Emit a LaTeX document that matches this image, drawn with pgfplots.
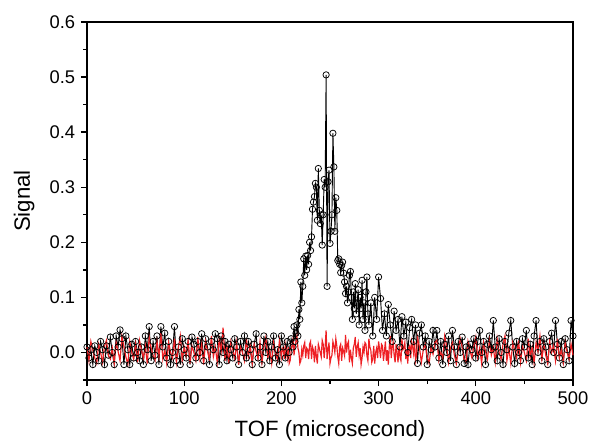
\documentclass[border=0pt]{standalone}
\usepackage{fontspec}
\setmainfont{Liberation Sans}
\usepackage{pgfplots}
\usepackage{pgfplotstable}
\pgfplotsset{compat=1.18}

\definecolor{sigred}{RGB}{238,32,36}

% black: signal with molecules (TOF, signal)
\pgfplotstableread{
x y
0 0.01
2 -0.01
4 0.005
6 -0.022
8 0.012
10 0.0
12 -0.015
14 0.02
16 0.005
18 -0.022
20 0.012
22 -0.005
24 0.028
26 0.0
28 -0.022
30 0.03
32 0.01
34 0.041
36 0.025
38 -0.022
40 0.03
42 0.005
44 -0.022
46 0.015
48 -0.01
50 0.02
52 0.0
54 -0.015
56 0.01
58 -0.022
60 0.03
62 0.005
64 0.047
66 -0.015
68 0.02
70 -0.005
72 0.03
74 -0.022
76 0.047
78 0.01
80 0.035
82 -0.01
84 0.02
86 -0.022
88 0.0
90 0.047
92 -0.015
94 0.01
96 -0.022
98 0.025
100 0.005
102 -0.01
104 0.02
106 -0.022
108 0.028
110 0.015
112 -0.01
114 0.02
116 0.0
118 0.034
120 -0.015
122 0.025
124 0.01
126 -0.022
128 0.02
130 0.005
132 0.034
134 0.025
136 -0.022
138 0.03
140 0.0
142 0.02
144 -0.015
146 0.015
148 0.005
150 -0.01
152 0.025
154 0.01
156 -0.022
158 0.02
160 0.0
162 0.03
164 -0.01
166 0.02
168 0.005
170 -0.022
172 0.015
174 0.034
176 -0.01
178 0.01
180 -0.022
182 0.03
184 0.0
186 0.02
188 -0.015
190 0.01
192 0.03
194 -0.01
196 0.005
198 -0.022
200 0.03
202 0.01
204 -0.01
206 0.02
208 0.0
210 0.025
212 0.01
213 0.047
214 0.02
215 0.035
216 0.05
217 0.03
218 0.078
219 0.06
220 0.128
221 0.09
222 0.12
223 0.17
224 0.14
225 0.175
226 0.15
227 0.176
228 0.16
229 0.2
230 0.185
231 0.21
232 0.26
233 0.273
234 0.283
235 0.307
236 0.3
237 0.24
238 0.334
239 0.258
240 0.234
241 0.25
242 0.195
243 0.25
244 0.314
245 0.3
246 0.504
247 0.12
248 0.31
249 0.331
250 0.198
251 0.22
252 0.25
253 0.398
254 0.337
255 0.22
256 0.281
257 0.258
258 0.167
259 0.17
260 0.16
261 0.145
262 0.158
263 0.164
264 0.144
265 0.128
266 0.107
267 0.12
268 0.09
269 0.11
270 0.14
271 0.147
272 0.1
273 0.06
274 0.11
275 0.08
276 0.125
277 0.07
278 0.09
279 0.114
280 0.05
281 0.1
282 0.08
283 0.131
284 0.06
285 0.09
286 0.04
287 0.11
288 0.137
289 0.07
290 0.05
292 0.09
294 0.03
296 0.1
298 0.06
300 0.137
302 0.098
304 0.04
306 0.07
308 0.03
310 0.087
312 0.05
314 0.02
316 0.075
318 0.04
320 0.06
322 0.01
324 0.065
326 0.03
328 0.055
330 0.0
332 0.045
334 0.06
336 0.02
338 0.05
340 -0.02
342 0.035
344 0.05
346 0.01
348 0.03
350 -0.022
352 0.02
354 0.005
356 0.04
358 0.01
360 0.04
362 -0.01
364 0.02
366 -0.022
368 0.015
370 0.0
372 0.03
374 -0.015
376 0.04
378 0.01
380 -0.022
382 0.02
384 0.0
386 0.028
388 -0.02
390 0.01
392 -0.022
394 0.015
396 0.005
398 0.025
400 -0.01
402 0.02
404 0.04
406 0.0
408 0.02
410 -0.022
412 0.015
414 0.03
416 0.005
418 0.058
420 0.01
422 -0.015
424 0.025
426 0.0
428 -0.022
430 0.02
432 0.005
434 0.035
436 0.058
438 0.01
440 -0.02
442 0.02
444 0.0
446 -0.015
448 0.025
450 0.01
452 0.04
454 -0.01
456 0.015
458 -0.022
460 0.03
462 0.058
464 0.0
466 0.02
468 -0.015
470 0.025
472 0.01
474 -0.022
476 0.02
478 0.035
480 0.0
482 0.058
484 0.015
486 -0.01
488 0.02
490 -0.022
492 0.025
494 0.005
496 -0.015
498 0.058
500 0.03
}\signaltable

% red: background (no molecules)
\pgfplotstableread{
x y
0 0.01
2 -0.015
4 0.02
6 0.004
8 -0.01
10 -0.02
12 0.015
14 0.0
16 -0.018
18 0.012
20 0.022
22 -0.005
24 -0.012
26 0.008
28 -0.02
30 0.018
32 0.002
34 -0.015
36 0.03
38 0.01
40 -0.008
42 -0.022
44 0.02
46 0.0
48 -0.012
50 0.015
52 -0.018
54 0.022
56 0.005
58 -0.01
60 0.012
62 -0.02
64 0.028
66 0.008
68 -0.005
70 -0.015
72 0.02
74 -0.008
76 0.035
78 -0.012
80 0.005
82 -0.02
84 0.018
86 0.0
88 -0.01
90 0.025
92 -0.018
94 0.008
96 0.03
98 -0.015
100 0.01
102 -0.005
104 0.022
106 -0.02
108 0.012
110 0.0
112 -0.015
114 0.028
116 -0.01
118 0.015
120 -0.022
122 0.02
124 0.002
126 -0.012
128 0.03
130 -0.008
132 0.01
134 -0.018
136 0.025
138 0.0
140 0.045
142 -0.015
144 0.012
146 -0.02
148 0.02
150 0.005
152 -0.012
154 0.018
156 -0.022
158 0.01
160 0.0
162 -0.015
164 0.025
166 -0.008
168 0.012
170 -0.02
172 0.015
174 0.002
176 -0.012
178 0.02
180 -0.018
182 0.01
184 0.028
186 -0.01
188 0.005
190 -0.02
192 0.018
194 0.0
196 -0.015
198 0.022
200 -0.008
201 0.008
202 0.005
203 -0.012
204 0.015
205 0.004
206 -0.01
207 0.01
208 -0.02
209 -0.015
210 0.002
211 0.015
212 0.025
213 -0.005
214 0.012
215 0.02
216 0.03
217 0.008
218 0.0
219 -0.02
220 -0.015
221 0.006
222 -0.005
223 0.012
224 0.018
225 -0.01
226 0.008
227 0.005
228 -0.012
229 0.015
230 0.02
231 -0.012
232 0.01
233 0.004
234 -0.018
235 0.012
236 -0.008
237 -0.02
238 0.015
239 0.008
240 0.0
241 -0.008
242 0.022
243 0.015
244 -0.01
245 0.01
246 0.04
247 -0.012
248 0.005
249 0.018
250 -0.02
251 -0.01
252 -0.005
253 0.02
254 0.012
255 0.0
256 0.025
257 0.012
258 -0.008
259 -0.02
260 0.01
261 0.015
262 -0.015
263 0.008
264 0.002
265 -0.006
266 0.032
267 0.0
268 0.015
269 0.02
270 -0.018
271 0.005
272 -0.01
273 -0.02
274 0.008
275 0.015
276 0.028
277 -0.008
278 0.01
279 0.018
280 -0.005
281 0.008
282 -0.022
283 -0.01
284 0.01
285 0.0
286 0.018
287 0.015
288 -0.006
289 -0.015
290 0.025
291 0.01
292 0.004
293 -0.018
294 -0.012
295 0.012
296 -0.02
297 0.0
298 0.008
299 -0.01
300 0.02
301 0.006
302 -0.01
303 0.015
304 0.012
305 -0.015
306 0.002
307 0.02
308 -0.015
309 0.004
310 -0.022
311 0.01
312 0.03
313 -0.01
314 0.01
315 0.018
316 -0.005
317 -0.018
318 0.015
319 0.0
320 -0.018
321 0.012
322 -0.008
323 -0.015
324 0.025
325 0.005
326 0.008
327 0.018
328 -0.012
329 0.004
330 -0.02
331 0.008
332 0.012
333 -0.01
334 0.02
335 0.01
336 -0.002
337 0.02
338 -0.015
339 -0.005
340 0.028
342 0.01
344 -0.018
346 0.005
348 0.015
350 -0.008
352 -0.02
354 0.01
356 -0.003
358 0.018
360 0.022
362 -0.015
364 0.0
366 -0.01
368 0.03
370 0.012
372 -0.018
374 0.008
376 0.018
378 -0.005
380 -0.02
382 0.006
384 0.025
386 0.01
388 -0.012
390 -0.018
392 0.02
394 0.004
396 -0.01
398 0.012
400 0.028
402 -0.01
404 0.008
406 -0.02
408 0.018
410 0.002
412 -0.012
414 0.022
416 -0.005
418 0.01
420 -0.018
422 0.025
424 0.0
426 -0.012
428 0.015
430 0.03
432 -0.015
434 0.008
436 -0.02
438 0.018
440 0.005
442 -0.01
444 0.022
446 -0.018
448 0.012
450 0.0
452 -0.015
454 0.025
456 -0.008
458 0.01
460 -0.02
462 0.018
464 0.002
466 0.03
468 -0.012
470 0.015
472 -0.005
474 -0.02
476 0.02
478 0.0
480 0.012
482 -0.015
484 0.025
486 -0.01
488 0.005
490 -0.018
492 0.018
494 0.0
496 -0.012
498 0.015
500 -0.005
}\backgroundtable

\begin{document}
\begin{tikzpicture}
\useasboundingbox (-52.2pt,-37.8pt) rectangle (301.8pt,228pt);
\begin{axis}[
    scale only axis,
    width=291.6pt,
    height=214.8pt,
    xmin=0, xmax=500,
    ymin=-0.05, ymax=0.6,
    xtick={0,100,...,500},
    minor xtick={50,150,...,450},
    ytick={0,0.1,...,0.6},
    minor ytick={-0.05,0.05,...,0.55},
    tick pos=left,
    tick align=outside,
    major tick length=3.6pt,
    minor tick length=2.1pt,
    every tick/.style={black, line width=0.8pt},
    axis line style={line width=0.8pt},
    yticklabel style={/pgf/number format/.cd, fixed, fixed zerofill, precision=1},
    /pgf/number format/assume math mode=true,
    ticklabel style={font=\fontsize{11}{13}\selectfont},
    xlabel={TOF (microsecond)},
    ylabel={Signal},
    label style={font=\fontsize{13.3}{15}\selectfont},
    x label style={at={(axis description cs:0.5,-0.159)}, anchor=base},
    y label style={at={(axis description cs:-0.1173,0.5)}, anchor=base, rotate=0},
    clip=false,
]
\addplot[black, line width=0.55pt, mark=o, mark size=1.9pt,
         mark options={fill=white, line width=0.45pt}]
    table[x=x, y=y] {\signaltable};
\addplot[sigred, line width=0.7pt] table[x=x, y=y] {\backgroundtable};
\end{axis}
\end{tikzpicture}
\end{document}
